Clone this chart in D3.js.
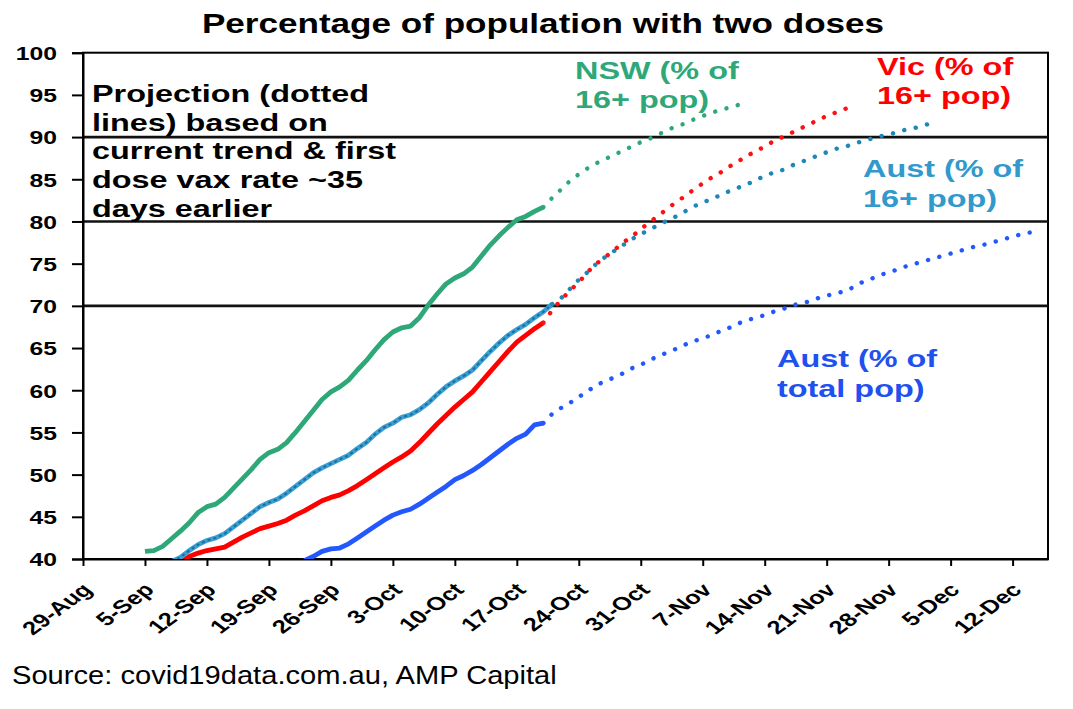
<!DOCTYPE html>
<html>
<head>
<meta charset="utf-8">
<script src="https://cdn.jsdelivr.net/npm/d3@7"></script>
<style>
  body { margin: 0; background: #fff; }
  svg { display: block; font-family: "Liberation Sans", Arial, sans-serif; }
</style>
</head>
<body>
<div id="chart"></div>
<script>
// tick labels
const xTickLabels = ["29-Aug", "5-Sep", "12-Sep", "19-Sep", "26-Sep", "3-Oct", "10-Oct", "17-Oct",
  "24-Oct", "31-Oct", "7-Nov", "14-Nov", "21-Nov", "28-Nov", "5-Dec", "12-Dec"];
const yTicks = [40, 45, 50, 55, 60, 65, 70, 75, 80, 85, 90, 95, 100];
const targetLines = [70, 80, 90];

// daily values, % with two doses
const nswStart = "2021-09-05";
const nswActual = [40.9, 41.0, 41.5, 42.4, 43.3, 44.3, 45.5, 46.2, 46.5, 47.3, 48.4, 49.5, 50.6, 51.8,
  52.6, 53.0, 53.8, 55.0, 56.3, 57.6, 58.9, 59.8, 60.4, 61.2, 62.4, 63.5, 64.8, 66.0, 66.9, 67.4,
  67.6, 68.6, 70.1, 71.4, 72.6, 73.3, 73.8, 74.6, 75.9, 77.2, 78.3, 79.3, 80.2, 80.6, 81.2, 81.7];
const nswProjStart = "2021-10-20";
const nswProj = [81.7, 82.8, 83.8, 84.8, 85.6, 86.3, 86.9, 87.4, 87.9, 88.4, 88.9, 89.4, 89.8, 90.3,
  90.8, 91.3, 91.6, 92.1, 92.5, 92.9, 93.2, 93.5, 93.8];

const vicStart = "2021-09-09";
const vicActual = [39.6, 40.3, 40.7, 41.0, 41.2, 41.4, 42.0, 42.6, 43.1, 43.6, 43.9, 44.2, 44.6, 45.2,
  45.7, 46.3, 46.9, 47.3, 47.6, 48.1, 48.7, 49.4, 50.1, 50.8, 51.5, 52.1, 52.8, 53.8, 54.9, 56.0,
  57.0, 58.0, 58.9, 59.8, 61.0, 62.2, 63.4, 64.6, 65.7, 66.5, 67.3, 68.0];
const vicProjStart = "2021-10-20";
const vicProj = [68.0, 69.5, 70.7, 71.8, 72.8, 74.0, 75.0, 75.8, 76.6, 77.5, 78.2, 79.1, 79.9, 80.7,
  81.5, 82.3, 83.0, 83.8, 84.5, 85.2, 85.8, 86.5, 87.1, 87.8, 88.3, 88.9, 89.5, 90.0, 90.5, 91.0,
  91.5, 92.0, 92.5, 92.9, 93.3, 93.7];

const aus16Start = "2021-09-08";
const aus16Actual = [39.7, 40.2, 41.0, 41.7, 42.2, 42.5, 43.0, 43.8, 44.6, 45.4, 46.2, 46.7, 47.1, 47.8,
  48.6, 49.4, 50.2, 50.8, 51.3, 51.8, 52.3, 53.1, 53.8, 54.8, 55.6, 56.1, 56.8, 57.1, 57.7, 58.5,
  59.5, 60.4, 61.1, 61.7, 62.4, 63.5, 64.6, 65.6, 66.5, 67.2, 67.8, 68.6, 69.3, 70.2];
const aus16ProjStart = "2021-10-21";
const aus16Proj = [70.2, 70.9, 72.0, 73.1, 74.0, 75.0, 75.8, 76.5, 77.2, 77.9, 78.5, 79.0, 79.6, 80.1,
  80.6, 81.2, 81.8, 82.2, 82.7, 83.1, 83.6, 84.0, 84.4, 84.9, 85.4, 85.8, 86.1, 86.6, 87.0, 87.4,
  87.8, 88.2, 88.6, 88.8, 89.2, 89.5, 89.8, 90.1, 90.3, 90.6, 90.9, 91.1, 91.4, 91.7];

const ausTotStart = "2021-09-23";
const ausTotActual = [39.8, 40.3, 40.9, 41.2, 41.3, 41.8, 42.5, 43.2, 43.9, 44.6, 45.2, 45.6, 45.9, 46.5,
  47.2, 47.9, 48.6, 49.4, 49.9, 50.5, 51.2, 52.0, 52.8, 53.6, 54.3, 54.8, 55.9, 56.1];
const ausTotProjStart = "2021-10-20";
const ausTotProj = [56.1, 57.2, 57.9, 58.5, 59.2, 59.9, 60.6, 61.1, 61.5, 62.0, 62.6, 63.0, 63.6, 64.0,
  64.5, 64.9, 65.4, 65.8, 66.2, 66.5, 67.0, 67.4, 67.9, 68.3, 68.6, 68.9, 69.3, 69.6, 70.0, 70.3,
  70.5, 70.9, 71.2, 71.5, 71.7, 72.2, 72.8, 73.2, 73.6, 74.0, 74.3, 74.7, 75.0, 75.3, 75.6, 75.9,
  76.2, 76.5, 76.8, 77.1, 77.3, 77.6, 77.9, 78.2, 78.5, 78.7, 79.0];

const noteLines = ["Projection (dotted", "lines) based on", "current trend & first",
  "dose vax rate ~35", "days earlier"];

const width = 1073;
const height = 709;
const margin = { top: 52.7, right: 25, bottom: 150, left: 83 };
const stretch = 1.35; // source picture is widened

const parseDay = d3.timeParse("%Y-%m-%d");
const parseTick = d3.timeParse("%d-%b-%Y");

function toPoints(start, values) {
  const s = parseDay(start);
  return values.map((v, i) => ({ date: d3.timeDay.offset(s, i), v }));
}

const series = [
  { pts: toPoints(nswStart, nswActual), color: "#2ea878", dotted: false },
  { pts: toPoints(nswProjStart, nswProj), color: "#2ea878", dotted: true },
  { pts: toPoints(vicStart, vicActual), color: "#ff0000", dotted: false },
  { pts: toPoints(vicProjStart, vicProj), color: "#ff1010", dotted: true },
  { pts: toPoints(aus16Start, aus16Actual), color: "#3a9fd2", dotted: false, teal: true },
  { pts: toPoints(aus16ProjStart, aus16Proj), color: "#1f86b8", dotted: true },
  { pts: toPoints(ausTotStart, ausTotActual), color: "#2458ff", dotted: false },
  { pts: toPoints(ausTotProjStart, ausTotProj), color: "#2458ff", dotted: true },
];

const svg = d3.select("#chart").append("svg")
  .attr("width", width)
  .attr("height", height);

svg.append("rect").attr("width", width).attr("height", height).attr("fill", "#fff");

const x = d3.scaleTime()
  .domain([parseDay("2021-08-29"), parseDay("2021-12-16")])
  .range([margin.left, width - margin.right]);

const y = d3.scaleLinear()
  .domain([40, 100])
  .range([height - margin.bottom, margin.top]);

// clip for lines
svg.append("clipPath").attr("id", "plot-clip")
  .append("rect")
  .attr("x", margin.left)
  .attr("y", margin.top)
  .attr("width", x.range()[1] - margin.left)
  .attr("height", y(40) - margin.top);

// frame
svg.append("rect")
  .attr("x", margin.left)
  .attr("y", y(100))
  .attr("width", x.range()[1] - margin.left)
  .attr("height", y(40) - y(100))
  .attr("fill", "none")
  .attr("stroke", "#000")
  .attr("stroke-width", 2);

// target lines 70 / 80 / 90
svg.selectAll(".target")
  .data(targetLines)
  .enter()
  .append("line")
  .attr("x1", margin.left)
  .attr("x2", x.range()[1])
  .attr("y1", (d) => y(d))
  .attr("y2", (d) => y(d))
  .attr("stroke", "#111")
  .attr("stroke-width", 2.6);

// y axis
const yAxis = d3.axisLeft(y).tickValues(yTicks).tickSize(11).tickPadding(0);
svg.append("g")
  .attr("transform", `translate(${margin.left},0)`)
  .call(yAxis)
  .call((g) => g.select(".domain").attr("stroke-width", 2))
  .call((g) => g.selectAll(".tick line").attr("stroke-width", 2))
  .call((g) =>
    g.selectAll(".tick text")
      .attr("x", 0)
      .attr("dy", "0.36em")
      .attr("transform", `translate(-26,0) scale(1.3,1)`)
      .attr("font-size", "19px")
      .attr("font-weight", "bold")
      .attr("font-family", "Liberation Sans, Arial, sans-serif")
      .attr("fill", "#000")
  );

// x axis
const xAxis = d3.axisBottom(x)
  .tickValues(xTickLabels.map((t) => parseTick(t + "-2021")))
  .tickFormat(d3.timeFormat("%-d-%b"))
  .tickSize(7)
  .tickSizeOuter(0);
svg.append("g")
  .attr("transform", `translate(0,${y(40)})`)
  .call(xAxis)
  .call((g) => g.select(".domain").attr("stroke-width", 2))
  .call((g) => g.selectAll(".tick line").attr("stroke-width", 2))
  .call((g) =>
    g.selectAll(".tick text")
      .attr("x", 0)
      .attr("y", 0)
      .attr("dy", 0)
      .attr("text-anchor", "end")
      .attr("transform", `translate(10,32) scale(${stretch},1) rotate(-45)`)
      .attr("font-size", "18.8px")
      .attr("font-weight", "bold")
      .attr("font-family", "Liberation Sans, Arial, sans-serif")
      .attr("fill", "#000")
  );

// lines
const line = d3.line()
  .x((d) => x(d.date))
  .y((d) => y(d.v));

const plot = svg.append("g").attr("clip-path", "url(#plot-clip)");

series.forEach((s) => {
  const p = plot.append("path")
    .datum(s.pts)
    .attr("fill", "none")
    .attr("stroke", s.color)
    .attr("d", line);
  if (s.dotted) {
    p.attr("stroke-width", 4.4)
      .attr("stroke-linecap", "round")
      .attr("stroke-dasharray", "0.1 11.6");
  } else {
    p.attr("stroke-width", 4.8).attr("stroke-linejoin", "round");
  }
  if (s.teal) {
    plot.append("path")
      .datum(s.pts)
      .attr("fill", "none")
      .attr("stroke", "#1b6d9c")
      .attr("stroke-width", 2)
      .attr("stroke-dasharray", "3 3")
      .attr("d", line);
  }
});

// stretched text helper
function label(txt, xPos, yPos, opts) {
  return svg.append("text")
    .attr("transform", `translate(${xPos},${yPos}) scale(${opts.sx || stretch},1)`)
    .attr("text-anchor", opts.anchor || "start")
    .attr("font-size", opts.size + "px")
    .attr("font-weight", opts.bold ? "bold" : "normal")
    .attr("fill", opts.color || "#000")
    .text(txt);
}

// title
label("Percentage of population with two doses", 543, 33, { size: 27, bold: true, sx: 1.3, anchor: "middle" });

// note
noteLines.forEach((t, i) => label(t, 92, 102 + i * 28.7, { size: 24, bold: true }));

// series labels
label("NSW (% of", 575, 79, { size: 24, bold: true, color: "#2ea878" });
label("16+ pop)", 575, 108, { size: 24, bold: true, color: "#2ea878" });
label("Vic (% of", 877, 75, { size: 24, bold: true, color: "#ff0000" });
label("16+ pop)", 877, 104, { size: 24, bold: true, color: "#ff0000" });
label("Aust (% of", 863, 177, { size: 24, bold: true, color: "#3199cc" });
label("16+ pop)", 863, 207, { size: 24, bold: true, color: "#3199cc" });
label("Aust (% of", 777, 367, { size: 24, bold: true, color: "#2050ee" });
label("total pop)", 777, 397, { size: 24, bold: true, color: "#2050ee" });

// source
label("Source: covid19data.com.au, AMP Capital", 12, 684, { size: 26, sx: 1.12 });
</script>
</body>
</html>
